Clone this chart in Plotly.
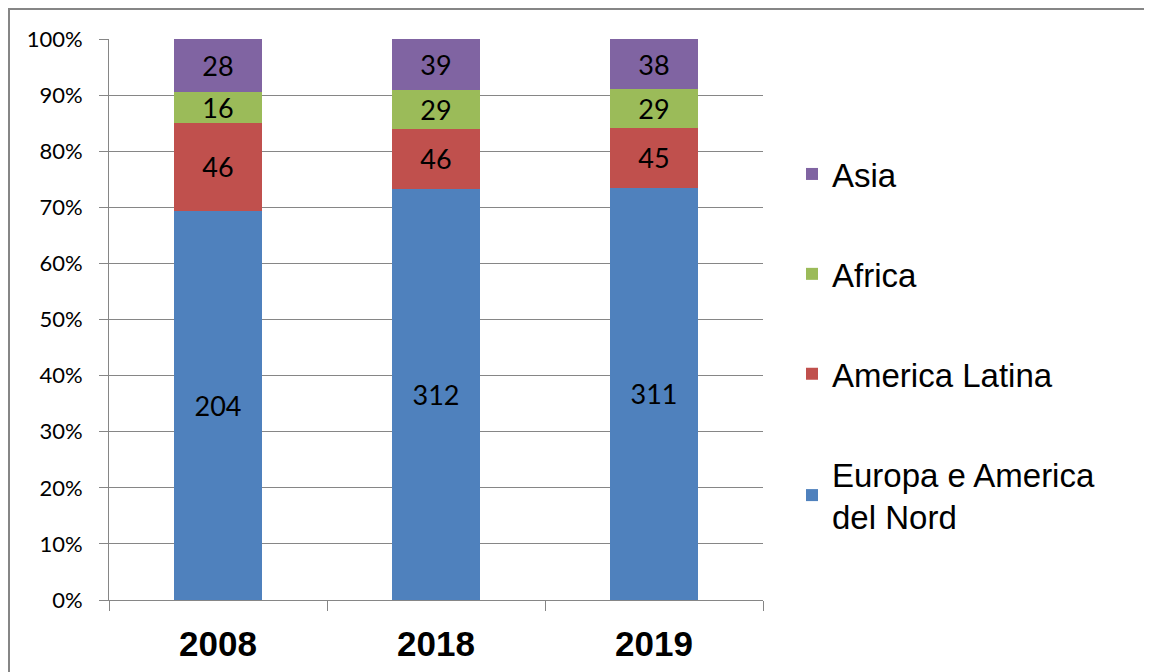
import plotly.graph_objects as go

years = ["2008", "2018", "2019"]
europa = [204, 312, 311]
america_latina = [46, 46, 45]
africa = [16, 29, 29]
asia = [28, 39, 38]

series = [
    ("Europa e America<br>del Nord", europa, "#4F81BD"),
    ("America Latina", america_latina, "#C0504D"),
    ("Africa", africa, "#9BBB59"),
    ("Asia", asia, "#8064A2"),
]

fig = go.Figure()
for i, (name, vals, col) in enumerate(series):
    fig.add_trace(go.Bar(
        x=years, y=vals, name=name, marker=dict(color=col, line=dict(width=0)),
        text=vals, texttemplate="%{text}", textposition="inside",
        insidetextanchor="middle", textangle=0, constraintext="none",
        textfont=dict(family="Lato", size=27, color="black"),
        legendgroup=f"g{i}", legendrank=len(series) - i, width=0.4,
    ))

# page body has an 8px margin; offsets below are in page pixels
OFF = 8
W, H = 1152 - OFF, 672 - OFF
L, R, T, B = 109 - OFF, 763 - OFF, 39 - OFF, 600 - OFF
pw, ph = R - L, B - T

bx0 = (1 - L) / pw
bx1 = (W + 20 - L) / pw
by1 = 1 + (T - 1) / ph
by0 = -(H + 20 - B) / ph

fig.update_layout(
    width=W, height=H,
    barmode="stack", barnorm="percent",
    margin=dict(l=L, r=W - R, t=T, b=H - B, autoexpand=False),
    paper_bgcolor="white", plot_bgcolor="white",
    showlegend=True,
    legend=dict(
        x=(792 - OFF - L) / pw, y=1 - (146 - OFF - T) / ph, xanchor="left", yanchor="top",
        traceorder="grouped", tracegroupgap=54,
        font=dict(family="Arial", size=33, color="black"),
        bgcolor="rgba(0,0,0,0)",
    ),
    xaxis=dict(
        showgrid=False, showline=True, linecolor="#868686", linewidth=1,
        ticks="outside", tickson="boundaries", ticklen=10, tickcolor="#868686",
        tickfont=dict(family="Arial", size=35, color="black", weight="bold"),
        ticklabelstandoff=13, automargin=False,
    ),
    yaxis=dict(
        range=[0, 100], dtick=10, ticksuffix="%",
        showgrid=True, gridcolor="#868686", gridwidth=1,
        showline=True, linecolor="#868686", linewidth=1,
        ticks="outside", ticklen=9, tickcolor="#868686",
        tickfont=dict(family="Lato", size=22, color="black"),
        ticklabelstandoff=12, zeroline=False, automargin=False,
    ),
    shapes=[dict(
        type="path", xref="paper", yref="paper",
        path=f"M {bx0},{by0} L {bx0},{by1} L {bx1},{by1}",
        line=dict(color="#868686", width=2), layer="below",
    )],
)

fig.write_html(
    "out.html",
    post_script="document.documentElement.style.overflow='hidden';document.body.style.overflow='hidden';",
)
